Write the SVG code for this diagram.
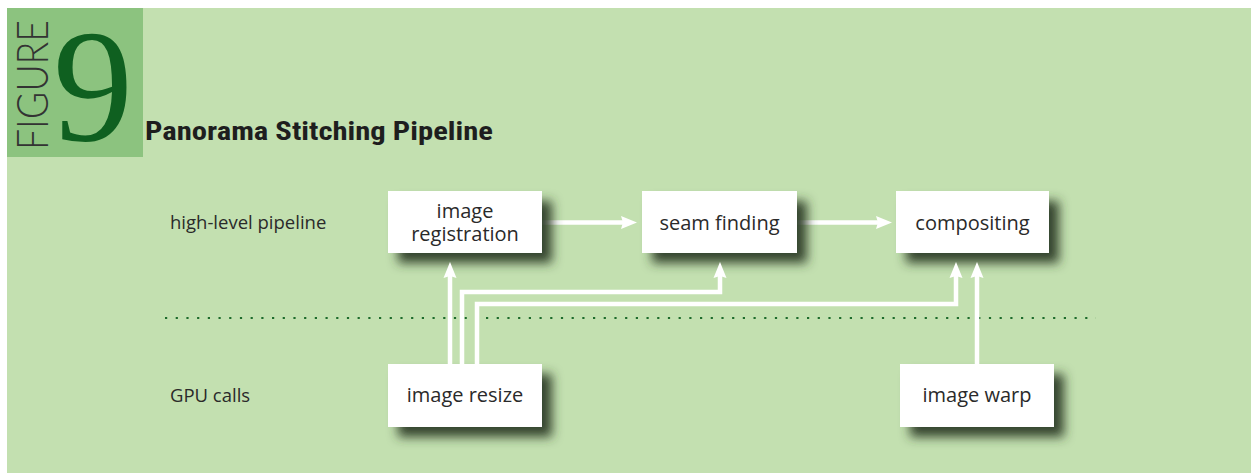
<svg xmlns="http://www.w3.org/2000/svg" width="1251" height="476" viewBox="0 0 1251 476">
  <style>
    .node rect { fill: #ffffff; filter: url(#shadow); }
    .node text { font-family: "Open Sans", "Noto Sans", sans-serif; font-size: 20px; fill: #2a2a2a; text-anchor: middle; }
    .lbl { font-family: "Open Sans", "Noto Sans", sans-serif; font-size: 18.5px; fill: #2a2a2a; }
    .conn { fill: none; stroke: #ffffff; stroke-width: 4.5; }
  </style>
  <defs>
    <filter id="shadow" x="-25%" y="-40%" width="160%" height="200%">
      <feGaussianBlur in="SourceAlpha" stdDeviation="5.5"/>
      <feOffset dx="10" dy="10" result="b"/>
      <feFlood flood-color="#2e3d28" flood-opacity="0.95"/>
      <feComposite in2="b" operator="in"/>
      <feMerge><feMergeNode/><feMergeNode in="SourceGraphic"/></feMerge>
    </filter>
    <marker id="arrow" markerUnits="userSpaceOnUse" markerWidth="17" markerHeight="14" refX="8" refY="7" orient="auto">
      <path d="M0,0.5 L16,7 L0,13.5 L2,7 Z" fill="#ffffff"/>
    </marker>
    <linearGradient id="fade1" gradientUnits="userSpaceOnUse" x1="546" y1="0" x2="582" y2="0">
      <stop offset="0" stop-color="#ffffff" stop-opacity="0.15"/>
      <stop offset="1" stop-color="#ffffff" stop-opacity="1"/>
    </linearGradient>
    <linearGradient id="fade2" gradientUnits="userSpaceOnUse" x1="801" y1="0" x2="837" y2="0">
      <stop offset="0" stop-color="#ffffff" stop-opacity="0.15"/>
      <stop offset="1" stop-color="#ffffff" stop-opacity="1"/>
    </linearGradient>
  </defs>

  <rect x="0" y="0" width="1251" height="476" fill="#ffffff"/>
  <rect x="7" y="8" width="1244" height="465" fill="#c3e0b0"/>
  <rect x="7" y="8" width="136" height="149" fill="#8cc37f"/>

  <g id="header">
    <text transform="translate(48,150) rotate(-90)" font-family="Lato, 'Liberation Sans', sans-serif" font-weight="300" font-size="44" fill="#333333" textLength="130" lengthAdjust="spacingAndGlyphs">FIGURE</text>
    <text x="93" y="140" font-family="'Liberation Serif', serif" font-size="160" fill="#0f6020" text-anchor="middle">9</text>
    <text x="145" y="140" font-family="'Liberation Sans Narrow', 'Roboto Condensed', 'Liberation Sans', sans-serif" font-weight="bold" font-size="26" fill="#1e1e1e" textLength="348" lengthAdjust="spacingAndGlyphs">Panorama Stitching Pipeline</text>
  </g>

  <g id="labels">
    <text class="lbl" x="170" y="229">high-level pipeline</text>
    <text class="lbl" x="170" y="402">GPU calls</text>
  </g>

  <line id="divider" x1="165" y1="318" x2="1096" y2="318" stroke="#1d6b2b" stroke-width="2.2" stroke-dasharray="2.2 8.5"/>

  <g id="connectors-under">
    <path class="conn" d="M542,222.5 H629" stroke="url(#fade1)" marker-end="url(#arrow)"/>
    <path class="conn" d="M797,222.5 H884" stroke="url(#fade2)" marker-end="url(#arrow)"/>
  </g>

  <g id="node-registration" class="node">
    <rect x="388" y="191" width="154" height="62"/>
    <text x="465" y="218">image</text>
    <text x="465" y="241">registration</text>
  </g>
  <g id="node-seam" class="node">
    <rect x="642" y="191" width="155" height="62"/>
    <text x="719.5" y="230">seam finding</text>
  </g>
  <g id="node-compositing" class="node">
    <rect x="896" y="191" width="153" height="62"/>
    <text x="972.5" y="230">compositing</text>
  </g>
  <g id="node-resize" class="node">
    <rect x="388" y="364" width="154" height="63"/>
    <text x="465" y="402">image resize</text>
  </g>
  <g id="node-warp" class="node">
    <rect x="900" y="364" width="154" height="63"/>
    <text x="977" y="402">image warp</text>
  </g>

  <g id="connectors">
    <path class="conn" d="M450,364 V270" marker-end="url(#arrow)"/>
    <path class="conn" d="M462,364 V292 H720 V270" marker-end="url(#arrow)"/>
    <path class="conn" d="M477,364 V304 H956 V270" marker-end="url(#arrow)"/>
    <path class="conn" d="M977,364 V270" marker-end="url(#arrow)"/>
  </g>
</svg>
